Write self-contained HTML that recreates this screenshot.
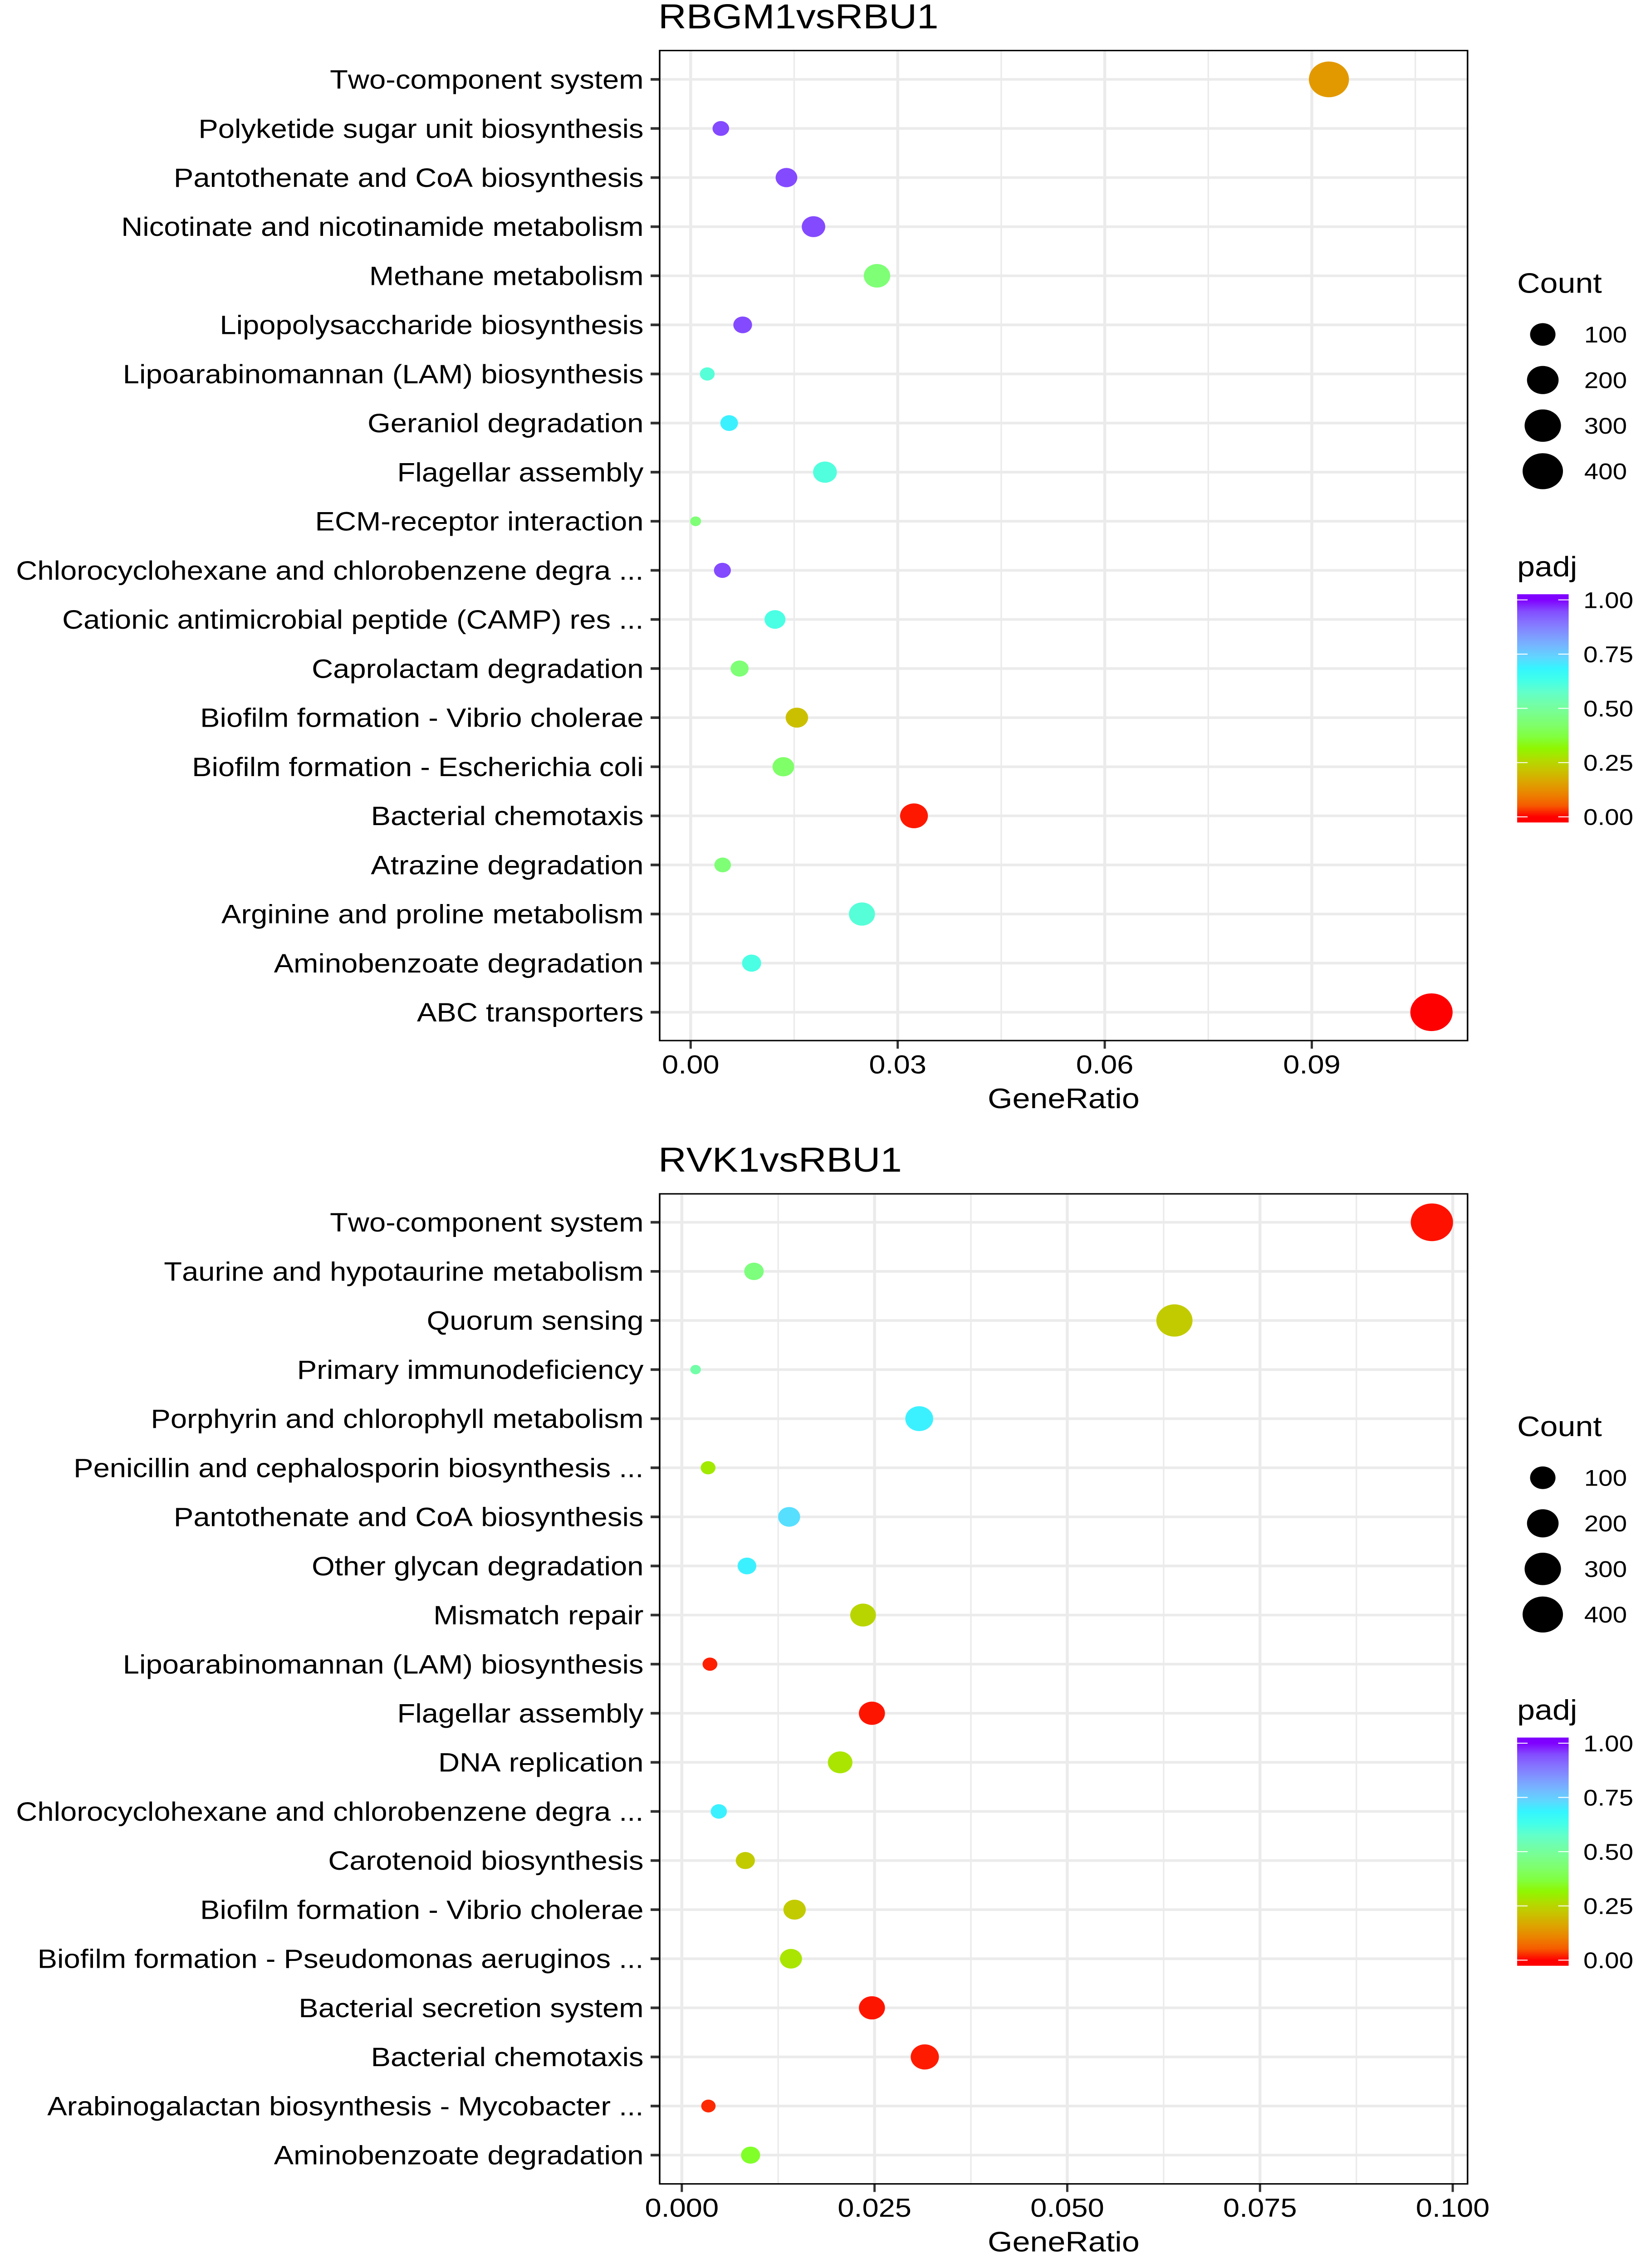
<!DOCTYPE html>
<html lang="en">
<head>
<meta charset="utf-8">
<title>KEGG enrichment dot plots</title>
<style>
html,body{margin:0;padding:0;background:#fff;width:100%;height:100%;overflow:hidden;}
svg{display:block;width:100vw;height:100vh;}
text{font-family:"Liberation Sans",Arial,sans-serif;fill:#000;font-kerning:none;}
</style>
</head>
<body>
<svg id="root" xmlns="http://www.w3.org/2000/svg" viewBox="0 0 3628 5608" preserveAspectRatio="none">
<rect x="0" y="0" width="3628" height="5608" fill="#ffffff"/>
<defs id="defs"></defs>
</svg>
<script>
// ---- Panel 1 data: RBGM1vsRBU1 ----
const categoriesA = ["Two-component system","Polyketide sugar unit biosynthesis","Pantothenate and CoA biosynthesis","Nicotinate and nicotinamide metabolism","Methane metabolism","Lipopolysaccharide biosynthesis","Lipoarabinomannan (LAM) biosynthesis","Geraniol degradation","Flagellar assembly","ECM-receptor interaction","Chlorocyclohexane and chlorobenzene degra ...","Cationic antimicrobial peptide (CAMP) res ...","Caprolactam degradation","Biofilm formation - Vibrio cholerae","Biofilm formation - Escherichia coli","Bacterial chemotaxis","Atrazine degradation","Arginine and proline metabolism","Aminobenzoate degradation","ABC transporters"];
const ratioA = [0.09248,0.00437,0.01388,0.0178,0.0270,0.00754,0.00241,0.00558,0.01946,0.00072,0.0046,0.01222,0.00709,0.01539,0.01343,0.03236,0.00464,0.02482,0.00883,0.10734];
const countA = [393,17,56,76,114,31,8.5,23.5,80,0.1,19,49,26,64,56,135,17,109,34,453];
const padjA = [0.14,0.95,0.95,0.95,0.44,0.95,0.6,0.69,0.61,0.44,0.95,0.62,0.44,0.21,0.42,0.005,0.44,0.6,0.62,0.0];
const xTicksA = [0,0.03,0.06,0.09];
const xTickLabelsA = ["0.00","0.03","0.06","0.09"];
const xMinorA = [0.015,0.045,0.075,0.105];

// ---- Panel 2 data: RVK1vsRBU1 ----
const categoriesB = ["Two-component system","Taurine and hypotaurine metabolism","Quorum sensing","Primary immunodeficiency","Porphyrin and chlorophyll metabolism","Penicillin and cephalosporin biosynthesis ...","Pantothenate and CoA biosynthesis","Other glycan degradation","Mismatch repair","Lipoarabinomannan (LAM) biosynthesis","Flagellar assembly","DNA replication","Chlorocyclohexane and chlorobenzene degra ...","Carotenoid biosynthesis","Biofilm formation - Vibrio cholerae","Biofilm formation - Pseudomonas aeruginos ...","Bacterial secretion system","Bacterial chemotaxis","Arabinogalactan biosynthesis - Mycobacter ...","Aminobenzoate degradation"];
const ratioB = [0.0973,0.00936,0.0639,0.00179,0.0308,0.00341,0.01392,0.00845,0.02351,0.00365,0.02466,0.02054,0.0048,0.00824,0.01463,0.01416,0.02466,0.03152,0.00345,0.00892];
const countB = [453,37,296,0.01,136,8.5,60,31,104,8.5,109,89,15,34,64,60,109,141,7,34];
const padjB = [0.003,0.45,0.23,0.52,0.69,0.29,0.72,0.69,0.25,0.007,0.004,0.28,0.69,0.23,0.23,0.28,0.004,0.006,0.012,0.35];
const xTicksB = [0,0.025,0.05,0.075,0.1];
const xTickLabelsB = ["0.000","0.025","0.050","0.075","0.100"];
const xMinorB = [0.0125,0.0375,0.0625,0.0875];

// ---- Legend data ----
const legendCounts = [100,200,300,400];
const legendPadjTicks = [0,0.25,0.5,0.75,1];
const legendPadjLabels = ["0.00","0.25","0.50","0.75","1.00"];
const colourStops = ["#FF0000","#80FF00","#00FFFF","#8000FF"];
const colourbarBins = 20;

// ---- helpers ----
const NS = "http://www.w3.org/2000/svg";
const root = document.getElementById("root");
const defs = document.getElementById("defs");
function mk(tag, attrs, parent, txt) {
  const e = document.createElementNS(NS, tag);
  for (const k in attrs) e.setAttribute(k, attrs[k]);
  if (txt !== undefined) e.textContent = txt;
  (parent || root).appendChild(e);
  return e;
}
function slug(s) {
  return s.toLowerCase().replace(/[^a-z0-9]+/g, "-").replace(/^-|-$/g, "");
}
// radius from count (area-style size scale, fitted to the legend keys)
function sizeScale(c) { return 11.5 + 1.65 * Math.sqrt(c); }

// Lab colour interpolation
function hexToLab(h) {
  const v = [1,3,5].map(i => parseInt(h.substr(i,2),16)/255)
    .map(c => c <= 0.04045 ? c/12.92 : Math.pow((c+0.055)/1.055,2.4));
  const X = (0.4124564*v[0]+0.3575761*v[1]+0.1804375*v[2])/0.95047;
  const Y = 0.2126729*v[0]+0.7151522*v[1]+0.0721750*v[2];
  const Z = (0.0193339*v[0]+0.1191920*v[1]+0.9503041*v[2])/1.08883;
  const f = t => t > 0.008856 ? Math.cbrt(t) : 7.787*t+16/116;
  return [116*f(Y)-16, 500*(f(X)-f(Y)), 200*(f(Y)-f(Z))];
}
function labToCss(l) {
  const fy = (l[0]+16)/116, fx = l[1]/500+fy, fz = fy-l[2]/200;
  const g = t => t*t*t > 0.008856 ? t*t*t : (t-16/116)/7.787;
  const X = g(fx)*0.95047, Y = g(fy), Z = g(fz)*1.08883;
  const r = 3.2404542*X-1.5371385*Y-0.4985314*Z;
  const gg = -0.9692660*X+1.8760108*Y+0.0415560*Z;
  const b = 0.0556434*X-0.2040259*Y+1.0572252*Z;
  const c = u => { u = Math.max(0,Math.min(1,u)); u = u <= 0.0031308 ? 12.92*u : 1.055*Math.pow(u,1/2.4)-0.055; return Math.round(u*255); };
  return "rgb("+c(r)+","+c(gg)+","+c(b)+")";
}
const labStops = colourStops.map(hexToLab);
function colourScale(p) {
  p = Math.max(0, Math.min(1, p));
  const s = p * (labStops.length-1);
  const i = Math.min(labStops.length-2, Math.floor(s));
  const t = s - i;
  return labToCss([0,1,2].map(k => labStops[i][k]*(1-t)+labStops[i+1][k]*t));
}

const PANEL_L = 1454, PANEL_R = 3234.7;
const LABEL_X = 1418.5;

function drawPanel(cfg) {
  const g = mk("g", {});
  
  
  const xScale = v => cfg.x0 + v * cfg.xk;
  const yScale = i => cfg.y0 + i * 121.4;

  const title = mk("text", {x:1451, y:cfg.top-55, "font-size":85.5}, g, cfg.title);
  
  

  const grid = mk("g", {stroke:"#ebebeb", fill:"none"}, g);
  
  
  cfg.minor.forEach(v => {
    const ln = mk("line", {x1:xScale(v), x2:xScale(v), y1:cfg.top, y2:cfg.bottom, "stroke-width":3.4}, grid);
    
    
  });
  cfg.ticks.forEach(v => {
    const ln = mk("line", {x1:xScale(v), x2:xScale(v), y1:cfg.top, y2:cfg.bottom, "stroke-width":6.5}, grid);
    
    
  });
  cfg.categories.forEach((c, i) => {
    const ln = mk("line", {x1:PANEL_L, x2:PANEL_R, y1:yScale(i), y2:yScale(i), "stroke-width":6.5}, grid);
    
    
  });

  cfg.categories.forEach((c, i) => {
    const t = mk("line", {x1:PANEL_L-20, x2:PANEL_L, y1:yScale(i), y2:yScale(i), stroke:"#333333", "stroke-width":6.5}, g);
    
    
    const lab = mk("text", {x:LABEL_X, y:yScale(i)+23, "font-size":65.15, "text-anchor":"end"}, g, c);
    
    
  });

  cfg.ticks.forEach((v, i) => {
    const t = mk("line", {x1:xScale(v), x2:xScale(v), y1:cfg.bottom, y2:cfg.bottom+20, stroke:"#333333", "stroke-width":5}, g);
    
    
    const lab = mk("text", {x:xScale(v), y:cfg.bottom+81, "font-size":65, "text-anchor":"middle"}, g, cfg.tickLabels[i]);
    
    
  });

  const xt = mk("text", {x:(PANEL_L+PANEL_R)/2, y:cfg.bottom+167, "font-size":70, "text-anchor":"middle"}, g, "GeneRatio");
  
  

  cfg.ratio.forEach((v, i) => {
    const d = mk("circle", {cx:xScale(v), cy:yScale(i), r:sizeScale(cfg.count[i]), fill:colourScale(cfg.padj[i])}, g);
    
    
  });

  const b = mk("rect", {x:PANEL_L, y:cfg.top, width:PANEL_R-PANEL_L, height:cfg.bottom-cfg.top, fill:"none", stroke:"#000", "stroke-width":3.5}, g);
  
  
}

function drawLegends(id, dy) {
  const g = mk("g", {});
  
  

  const ct = mk("text", {x:3344, y:724+dy, "font-size":70}, g, "Count");
  
  
  legendCounts.forEach((c, i) => {
    const y = 827 + i*112.7 + dy;
    const d = mk("circle", {cx:3400.5, cy:y, r:sizeScale(c), fill:"#000"}, g);
    
    
    const t = mk("text", {x:3586, y:y+20, "font-size":56.5, "text-anchor":"end"}, g, String(c));
    
    
  });

  const pt = mk("text", {x:3344, y:1425+dy, "font-size":70}, g, "padj");
  
  

  const barTop = 1469.4+dy, barBottom = 2033.7+dy, y0 = 2019.8+dy, k = 536.5;
  const grad = mk("linearGradient", {id:"grad-"+id, x1:0, y1:0, x2:0, y2:1}, defs);
  for (let s = colourbarBins-1; s >= 0; s--) {
    const p = s/(colourbarBins-1);
    const y = y0 - p*k;
    mk("stop", {offset:(y-barTop)/(barBottom-barTop), "stop-color":colourScale(p)}, grad);
  }
  const bar = mk("rect", {x:3344, y:barTop, width:113.5, height:barBottom-barTop, fill:"url(#grad-"+id+")"}, g);
  
  

  legendPadjTicks.forEach((p, i) => {
    const y = y0 - p*k;
    const a = mk("line", {x1:3344, x2:3367, y1:y, y2:y, stroke:"#fff", "stroke-width":2.3}, g);
    
    
    const b = mk("line", {x1:3434.5, x2:3457.5, y1:y, y2:y, stroke:"#fff", "stroke-width":2.3}, g);
    
    
    const t = mk("text", {x:3600, y:y+20, "font-size":56.5, "text-anchor":"end"}, g, legendPadjLabels[i]);
    
    
  });
}

drawPanel({id:"rbgm1", title:"RBGM1vsRBU1", top:125, bottom:2573, y0:196.3, x0:1522.3, xk:15212,
  categories:categoriesA, ratio:ratioA, count:countA, padj:padjA, ticks:xTicksA, tickLabels:xTickLabelsA, minor:xMinorA});
drawPanel({id:"rvk1", title:"RVK1vsRBU1", top:2952, bottom:5400, y0:3022.3, x0:1502.8, xk:16992,
  categories:categoriesB, ratio:ratioB, count:countB, padj:padjB, ticks:xTicksB, tickLabels:xTickLabelsB, minor:xMinorB});
drawLegends("rbgm1", 0);
drawLegends("rvk1", 2827);
</script>
</body>
</html>
